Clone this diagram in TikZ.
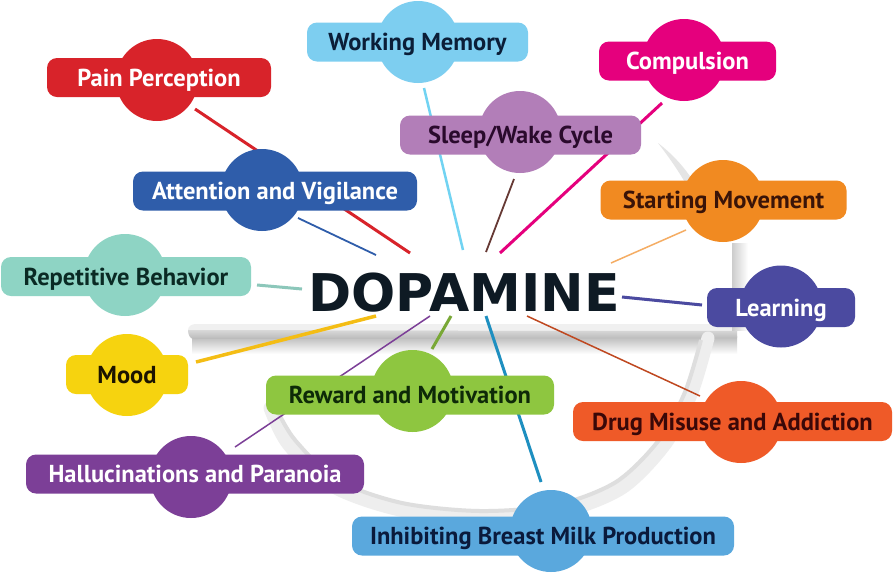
\documentclass[tikz,border=0pt]{standalone}
\usepackage{fontspec}
\setmainfont{PT Sans}
\newfontfamily\dopfont{DejaVu Sans}
\definecolor{cPain}{HTML}{D8232A}
\definecolor{cWM}{HTML}{7DCEF0}
\definecolor{cComp}{HTML}{E5007D}
\definecolor{cSleep}{HTML}{B27EB8}
\definecolor{cAtt}{HTML}{2F5DAA}
\definecolor{cStart}{HTML}{F18A21}
\definecolor{cRep}{HTML}{8ED4C4}
\definecolor{cLearn}{HTML}{4B4AA0}
\definecolor{cMood}{HTML}{F6D30F}
\definecolor{cReward}{HTML}{8EC640}
\definecolor{cDrug}{HTML}{EF5A28}
\definecolor{cHall}{HTML}{7C3F97}
\definecolor{cInh}{HTML}{5AA8DD}
\definecolor{lInh}{HTML}{1E8FC0}
\definecolor{tWM}{HTML}{0B1E38}
\definecolor{tSleep}{HTML}{2A0A2C}
\definecolor{tStart}{HTML}{3A1408}
\definecolor{tRep}{HTML}{0A2A24}
\definecolor{tMood}{HTML}{1C1400}
\definecolor{tReward}{HTML}{0E2A08}
\definecolor{tDrug}{HTML}{3A0808}
\definecolor{tInh}{HTML}{0A1A3C}
\definecolor{dopc}{HTML}{0E1A24}
\newcommand\labfont{\fontsize{24.5}{26}\selectfont\bfseries}
\tikzset{
  circ/.style={circle, inner sep=0pt, minimum size=82pt},
  pill/.style={rectangle, rounded corners=10pt, inner sep=0pt, minimum height=39pt,
    font=\labfont, text height=17pt, text depth=0pt, align=center},
  link/.style={line cap=butt}
}
\newcommand\topic[9]{%
  \node[circ, fill=#2] (#1-c) at (#4,#5) {};
  \node[pill, fill=#2, text=#3, minimum width=#8] (#1) at (#6,#7) {#9};
}
\begin{document}
\begin{tikzpicture}[x=1pt,y=-1pt]
\useasboundingbox (0,0) rectangle (894,574);
\fill[white] (0,0) rectangle (894,574);
% ---- grey swoosh ----
\shade[top color=gray!55, bottom color=white] (192,336) rectangle (737,354);
\fill[gray!12] (188,330) to[out=90,in=180] (196,324) -- (737,324) -- (737,331) -- cycle;
\shade[top color=gray!30, bottom color=gray!55] (188,330) -- (737,331) -- (737,338) -- (194,339) to[out=180,in=270] (188,330);
\shade[left color=gray!40, right color=white] (732,243) rectangle (748,330);
\draw[gray!13, line width=13pt, line cap=round]
  plot[smooth] coordinates {(708,338) (692,392) (666,443) (622,488) (560,512) (480,518) (400,510) (332,486) (288,444) (270,408)};
\draw[gray!26, line width=4pt]
  plot[smooth] coordinates {(701,340) (685,392) (659,440) (616,482) (556,505) (480,511) (402,503) (337,480) (295,440) (277,410)};
\fill[gray!20] (658,143) .. controls (680,160) and (695,180) .. (706,205) -- (698,208) .. controls (688,185) and (675,165) .. (658,143);
% ---- connector ends ----
\coordinate (pain-e) at (195,109);  \coordinate (pain-d) at (410,253);
\coordinate (att-e) at (298,218);   \coordinate (att-d) at (376,255);
\coordinate (wm-e) at (424,88);     \coordinate (wm-d) at (463,250);
\coordinate (sleep-e) at (514,179); \coordinate (sleep-d) at (486,252);
\coordinate (comp-e) at (662,103);  \coordinate (comp-d) at (500,253);
\coordinate (start-e) at (686,230); \coordinate (start-d) at (611,263);
\coordinate (rep-e) at (257,285);   \coordinate (rep-d) at (302,289);
\coordinate (learn-e) at (702,305); \coordinate (learn-d) at (622,297);
\coordinate (mood-e) at (196,362);  \coordinate (mood-d) at (376,316);
\coordinate (hall-e) at (235,447);  \coordinate (hall-d) at (430,316);
\coordinate (reward-e) at (432,349);\coordinate (reward-d) at (451,316);
\coordinate (inh-e) at (541,482);   \coordinate (inh-d) at (486,316);
\coordinate (drug-e) at (700,396);  \coordinate (drug-d) at (527,316);
% ---- connectors ----
\draw[link, color=cPain, line width=3pt] (pain-e) -- (pain-d);
\draw[link, color=cAtt, line width=1.8pt] (att-e) -- (att-d);
\draw[link, color=cWM!90!cyan, line width=2.5pt] (wm-e) -- (wm-d);
\draw[link, color=tSleep!60!brown, line width=1.8pt] (sleep-e) -- (sleep-d);
\draw[link, color=cComp, line width=3pt] (comp-e) -- (comp-d);
\draw[link, color=cStart!70!white, line width=1.5pt] (start-e) -- (start-d);
\draw[link, color=cRep!85!gray, line width=3pt] (rep-e) -- (rep-d);
\draw[link, color=cLearn, line width=3pt] (learn-e) -- (learn-d);
\draw[link, color=cMood!70!cStart, line width=3.5pt] (mood-e) -- (mood-d);
\draw[link, color=cHall, line width=1.5pt] (hall-e) -- (hall-d);
\draw[link, color=cReward!85!black, line width=3pt] (reward-e) -- (reward-d);
\draw[link, color=lInh, line width=3pt] (inh-e) -- (inh-d);
\draw[link, color=cDrug!80!black, line width=1.5pt] (drug-e) -- (drug-d);
% ---- topics ----
\topic{pain}{cPain}{white}{157}{80}{159}{77.5}{224pt}{Pain Perception}
\topic{wm}{cWM}{tWM}{418}{42}{417.5}{42}{221pt}{Working Memory}
\topic{comp}{cComp}{white}{684}{60}{687.5}{61}{177pt}{Compulsion}
\topic{sleep}{cSleep}{tSleep}{520}{132}{520.5}{135}{241pt}{Sleep/Wake Cycle}
\topic{att}{cAtt}{white}{262}{190}{275}{191}{284pt}{Attention and Vigilance}
\topic{start}{cStart}{tStart}{723}{201}{723.5}{200}{246pt}{Starting Movement}
\topic{rep}{cRep}{tRep}{125}{275}{126}{276.5}{250pt}{Repetitive Behavior}
\topic{learn}{cLearn}{white}{781}{306.5}{781}{307.5}{148pt}{Learning}
\topic{mood}{cMood}{tMood}{127}{375}{127}{374.5}{122pt}{Mood}
\topic{reward}{cReward}{tReward}{412.5}{391}{410}{395}{288pt}{Reward and Motivation}
\topic{drug}{cDrug}{tDrug}{741}{422}{732.5}{421.5}{319pt}{Drug Misuse and Addiction}
\topic{hall}{cHall}{white}{191}{477}{195}{474}{338pt}{Hallucinations and Paranoia}
\topic{inh}{cInh}{tInh}{551}{531}{543}{536}{382pt}{Inhibiting Breast Milk Production}
% ---- centre ----
\node[inner sep=0pt, text=dopc, font=\dopfont\bfseries\fontsize{52}{56}\selectfont,
  text height=38pt, text depth=0pt] (dop) at (464,292) {DOPAMINE};
\end{tikzpicture}
\end{document}
